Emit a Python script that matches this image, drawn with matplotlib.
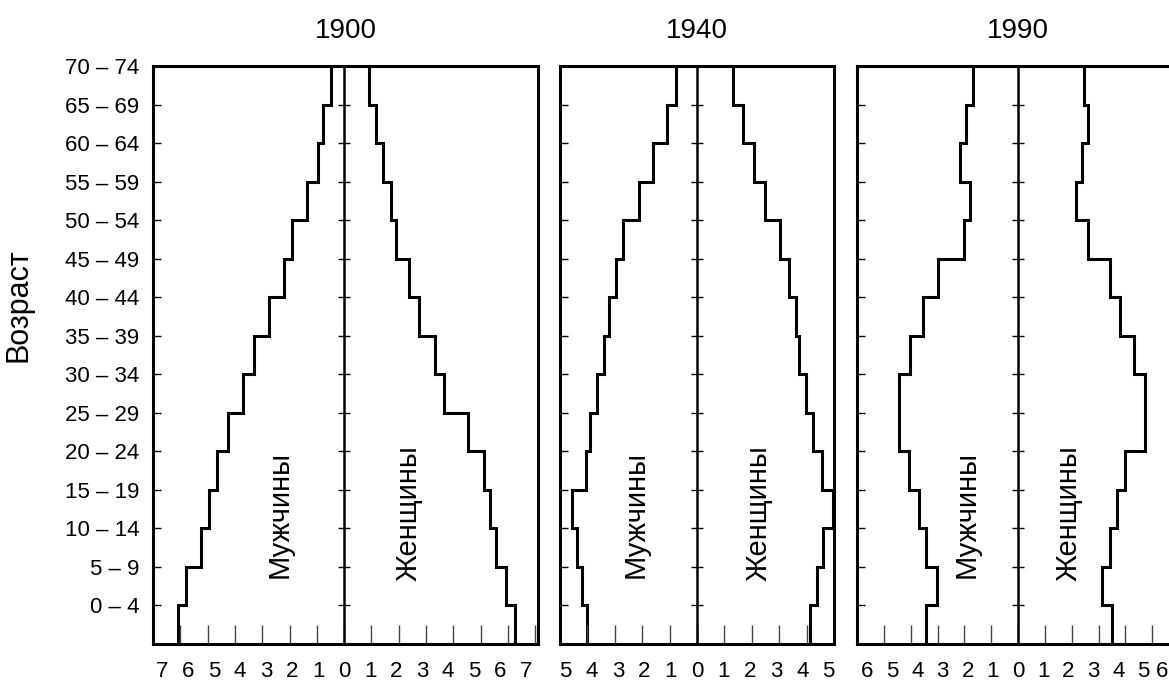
import matplotlib.pyplot as plt
import numpy as np

plt.rcParams["font.family"] = ["Liberation Sans", "DejaVu Sans"]

# age groups, bottom to top
AGE_GROUPS = ["0 – 4", "5 – 9", "10 – 14", "15 – 19", "20 – 24", "25 – 29",
              "30 – 34", "35 – 39", "40 – 44", "45 – 49", "50 – 54",
              "55 – 59", "60 – 64", "65 – 69", "70 – 74"]
YEARS = ["1900", "1940", "1990"]

# share of population, %, per age group
MEN_1900 = [6.07, 5.80, 5.26, 4.95, 4.65, 4.26, 3.71, 3.31, 2.76, 2.21,
            1.91, 1.36, 0.97, 0.78, 0.49]
WOMEN_1900 = [6.24, 5.94, 5.57, 5.33, 5.11, 4.54, 3.65, 3.32, 2.75, 2.38,
              1.90, 1.70, 1.41, 1.17, 0.92]
MEN_1940 = [4.02, 4.20, 4.39, 4.56, 4.06, 3.91, 3.64, 3.39, 3.21, 2.94,
            2.71, 2.13, 1.61, 1.11, 0.75]
WOMEN_1940 = [4.13, 4.37, 4.61, 4.95, 4.55, 4.25, 3.98, 3.74, 3.61, 3.34,
              3.02, 2.47, 2.08, 1.68, 1.30]
MEN_1990 = [3.44, 3.02, 3.44, 3.69, 4.07, 4.44, 4.44, 4.04, 3.54, 2.99,
            2.03, 1.80, 2.18, 1.93, 1.68]
WOMEN_1990 = [3.52, 3.14, 3.41, 3.70, 4.00, 4.72, 4.72, 4.31, 3.80, 3.41,
              2.60, 2.15, 2.38, 2.60, 2.47]

X_MAX = [7, 5, 6]

# layout in pixels of the 1169x684 canvas
W, H = 1169, 684
PANELS = [(153, 538, (-7, 7.1)), (560, 834, (-5, 5)), (857, 1179, (-6, 6))]
TOP, BOTTOM = 66, 644
LABEL_X = [2.35, 2.25, 1.9]
# the printed tick numbers sit a little closer together than the tick marks
SQUEEZE = [0.952, 0.96, 0.935]


def main():
    fig = plt.figure(figsize=(W / 100, H / 100), dpi=100)
    men = [MEN_1900, MEN_1940, MEN_1990]
    women = [WOMEN_1900, WOMEN_1940, WOMEN_1990]
    edges = np.arange(len(AGE_GROUPS) + 1)

    for i, (left, right, xlim) in enumerate(PANELS):
        ax = fig.add_axes([left / W, 1 - BOTTOM / H, (right - left) / W,
                           (BOTTOM - TOP) / H])
        ax.stairs(-np.array(men[i]), edges, orientation="horizontal",
                  baseline=None, color="black", linewidth=2.2)
        ax.stairs(np.array(women[i]), edges, orientation="horizontal",
                  baseline=None, color="black", linewidth=2.2)
        ax.axvline(0, color="black", linewidth=1.8)
        ax.plot(np.zeros(len(edges) - 2), edges[1:-1], linestyle="none",
                marker="_", markersize=9, markeredgewidth=1, color="black")

        ax.set_xlim(*xlim)
        ax.set_ylim(0, len(AGE_GROUPS))
        ticks = np.arange(-X_MAX[i], X_MAX[i] + 1)
        ax.set_xticks(ticks, [])
        ax.tick_params(axis="x", direction="in", length=14, width=1,
                       color="#444444")
        for t in ticks:
            last = i == 2 and t == ticks[-1]
            ax.text(t * SQUEEZE[i], -0.047, str(abs(t)), fontsize=16,
                    ha="right" if last else "center", va="center",
                    transform=ax.get_xaxis_transform())

        ax.set_yticks(edges[1:])
        if i == 0:
            ax.set_yticklabels(AGE_GROUPS, fontsize=16)
        else:
            ax.set_yticklabels([])
        ax.tick_params(axis="y", direction="in", length=6, width=1, pad=10)
        for spine in ax.spines.values():
            spine.set_linewidth(2.2)

        ax.set_title(YEARS[i], fontsize=20, pad=20)
        ax.text(-LABEL_X[i], 3.35, "Мужчины", rotation=90, ha="center",
                va="center", fontsize=21)
        ax.text(LABEL_X[i], 3.4, "Женщины", rotation=90, ha="center",
                va="center", fontsize=21)

    fig.text(18 / W, 1 - 305 / H, "Возраст", rotation=90, ha="center",
             va="center", fontsize=22)
    fig.savefig("out.png", dpi=100)
    plt.close(fig)


if __name__ == "__main__":
    main()
